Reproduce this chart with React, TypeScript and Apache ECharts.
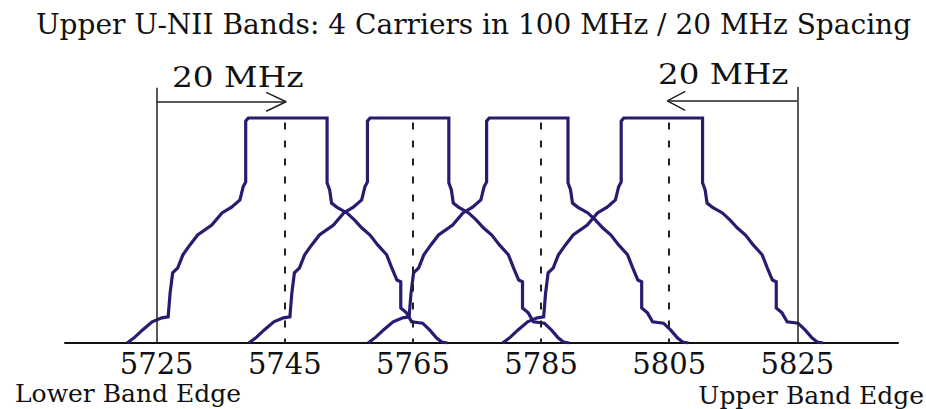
import React, { useEffect, useRef } from "react";
import * as echarts from "echarts";

// ---- data ----
const titleText = "Upper U-NII Bands: 4 Carriers in 100 MHz / 20 MHz Spacing";
const tickLabels = [5725, 5745, 5765, 5785, 5805, 5825];
const bandEdges = [5725, 5825];
const channelCenters = [5745, 5765, 5785, 5805];
// centres of the drawn masks (MHz)
const maskCenters = [5745.4, 5764.4, 5783.0, 5804.0];
// mask profile: offset from centre (MHz) and level (dBr)
const maskLeftOffsets = [-25.0, -23.8, -22.6, -21.1, -19.6, -18.6, -18.3, -17.9, -17.1, -16.3, -15.2, -14.0, -11.8, -10.2, -8.7, -7.4, -6.9, -6.5, -6.5, -6.1];
const maskLeftLevels = [-50, -48.7, -47.1, -45.3, -44.4, -44.2, -38.9, -34.4, -33.3, -30.4, -28.2, -26.0, -23.8, -21.1, -19.8, -18.2, -15.3, -14.2, -0.7, 0];
const maskRightOffsets = [6.2, 6.2, 6.6, 6.9, 7.7, 9.3, 10.5, 11.6, 12.9, 14.1, 15.5, 16.3, 17.1, 17.7, 17.7, 18.6, 19.4, 21.1, 22.2, 23.3, 24.1, 25.0];
const maskRightLevels = [0, -14.4, -16.0, -18.9, -19.8, -21.1, -22.7, -24.4, -26.0, -28.2, -30.4, -33.3, -36.0, -36.4, -42.2, -43.3, -45.3, -45.6, -47.1, -48.9, -49.8, -50];
const dashTop = -1;
const floorLevel = -50;
const edgeTop = [6.7, 6.9];
const arrowLevels = [3.6, 3.8];
const arrowTips = [5745.2, 5804.7];
const chevronLength = [-3.1, 2.8];
const chevronHalf = 2.1;
const spanLabel = "20 MHz";
const lowerLabel = "Lower Band Edge";
const upperLabel = "Upper Band Edge";

const FONT = "'DejaVu Serif', 'Liberation Serif', serif";
const MASK = "#2a1a70";

export default function App() {
  const ref = useRef<HTMLDivElement>(null);
  useEffect(() => {
    if (!ref.current) return;
    const chart = echarts.init(ref.current, undefined, { renderer: "svg" });

    const maskSeries = maskCenters.map((c, i) => {
      const pts: number[][] = [];
      maskLeftOffsets.forEach((o, k) => pts.push([c + o, maskLeftLevels[k]]));
      maskRightOffsets.forEach((o, k) => pts.push([c + o, maskRightLevels[k]]));
      return {
        type: "line",
        name: "carrier" + (i + 1),
        data: pts,
        showSymbol: false,
        symbol: "none",
        lineStyle: { color: MASK, width: 3.2, join: "miter" },
        z: 3,
      };
    });

    const markData: any[] = [];
    channelCenters.forEach((c) =>
      markData.push([
        { coord: [c, dashTop], lineStyle: { type: [7, 11], width: 2, color: "#222" } },
        { coord: [c, floorLevel] },
      ])
    );
    bandEdges.forEach((e, i) =>
      markData.push([
        { coord: [e, edgeTop[i]], lineStyle: { type: "solid", width: 1.5, color: "#222" } },
        { coord: [e, floorLevel] },
      ])
    );
    bandEdges.forEach((e, i) =>
      markData.push([
        { coord: [e, arrowLevels[i]], lineStyle: { type: "solid", width: 1.5, color: "#222" } },
        { coord: [arrowTips[i], arrowLevels[i]] },
      ])
    );

    const chevronSeries = arrowTips.map((t, i) => ({
      type: "line",
      data: [
        [t + chevronLength[i], arrowLevels[i] + chevronHalf],
        [t, arrowLevels[i]],
        [t + chevronLength[i], arrowLevels[i] - chevronHalf],
      ],
      showSymbol: false,
      symbol: "none",
      lineStyle: { color: "#222", width: 1.5 },
      z: 2,
    }));

    chart.setOption({
      animation: false,
      backgroundColor: "#fff",
      title: {
        text: titleText,
        left: 31,
        top: 5,
        textStyle: { fontFamily: FONT, fontSize: 28, fontWeight: "normal", color: "#111" },
      },
      grid: { left: 65, right: 28, top: 73, bottom: 66, containLabel: false },
      xAxis: {
        type: "value",
        min: 5710.7,
        max: 5840.7,
        splitLine: { show: false },
        axisTick: { show: false },
        axisLine: { onZero: false, lineStyle: { color: "#111", width: 2 } },
        axisLabel: {
          customValues: tickLabels,
          formatter: (v: number) => String(v),
          fontFamily: FONT,
          fontSize: 29,
          lineHeight: 23,
          color: "#111",
          margin: 9,
        },
      },
      yAxis: {
        type: "value",
        min: -50,
        max: 10,
        show: false,
        splitLine: { show: false },
      },
      series: [
        ...maskSeries,
        ...chevronSeries,
        {
          type: "line",
          data: [],
          symbol: "none",
          markLine: {
            silent: true,
            symbol: ["none", "none"],
            label: { show: false },
            animation: false,
            data: markData,
          },
        },
      ],
      graphic: [
        {
          type: "text",
          x: 172,
          y: 77,
          scaleX: 1.17,
          style: { text: spanLabel, font: `28px ${FONT}`, fill: "#111", verticalAlign: "middle" },
        },
        {
          type: "text",
          x: 658,
          y: 74,
          scaleX: 1.16,
          style: { text: spanLabel, font: `28px ${FONT}`, fill: "#111", verticalAlign: "middle" },
        },
        {
          type: "text",
          x: 15,
          y: 393.5,
          style: { text: lowerLabel, font: `25px ${FONT}`, lineHeight: 20, fill: "#111", verticalAlign: "middle" },
        },
        {
          type: "text",
          x: 924,
          y: 395.2,
          scaleX: 1.04,
          style: { text: upperLabel, font: `24px ${FONT}`, lineHeight: 20, fill: "#111", align: "right", verticalAlign: "middle" },
        },
      ],
    });
    return () => chart.dispose();
  }, []);
  return <div ref={ref} style={{ width: 926, height: 409, position: "absolute", left: 0, top: 0 }} />;
}
